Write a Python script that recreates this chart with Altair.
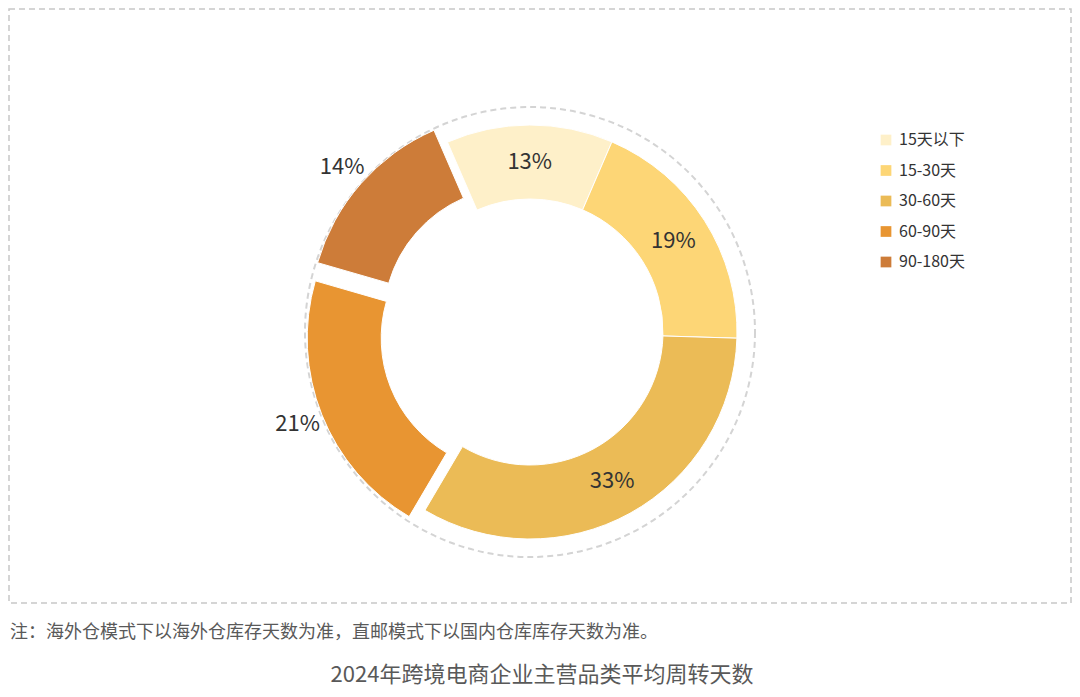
import math
import altair as alt
import pandas as pd

categories = ["15天以下", "15-30天", "30-60天", "60-90天", "90-180天"]
values = [13, 19, 33, 21, 14]
colors = ["#FEF0C9", "#FDD676", "#EBBB56", "#E89532", "#CD7C39"]
note = "注：海外仓模式下以海外仓库存天数为准，直邮模式下以国内仓库库存天数为准。"
title = "2024年跨境电商企业主营品类平均周转天数"

# style
CX, CY = 522, 324
R_OUT, R_IN = 207, 133
explode = {"60-90天": 17, "90-180天": 18}
label_r = {"60-90天": 250, "90-180天": 250}
START = -0.41
FONT = "Noto Sans CJK SC"

df = pd.DataFrame({"cat": categories, "value": values, "order": list(range(len(categories)))})

base = alt.Chart(df).transform_window(
    cum_end="sum(value)", sort=[alt.SortField("order")], frame=[None, 0]
).transform_calculate(
    cum_start="datum.cum_end - datum.value",
    mid="datum.cum_end - datum.value / 2",
    label="datum.value + '%'",
)

theta_scale = alt.Scale(domain=[0, 100], range=[START, START + 2 * math.pi])
color_scale = alt.Scale(domain=categories, range=colors)

layers = []
total = sum(values)
cum = 0
for i, c in enumerate(categories):
    midfrac = (cum + values[i] / 2) / total
    cum += values[i]
    ang = START + midfrac * 2 * math.pi
    d = explode.get(c, 0)
    dx, dy = d * math.sin(ang), -d * math.cos(ang)
    arc = base.transform_filter(alt.datum.cat == c).mark_arc(
        radius=R_OUT, radius2=R_IN, stroke="white", strokeWidth=1,
        xOffset=dx, yOffset=dy,
    ).encode(
        theta=alt.Theta("cum_start:Q", scale=theta_scale),
        theta2="cum_end:Q",
        color=alt.Color("cat:N", scale=color_scale, sort=categories,
                        legend=alt.Legend(title=None, orient="none", legendX=870, legendY=124,
                                          symbolType="square", symbolSize=115,
                                          labelFontSize=16, labelFont=FONT, labelColor="#333333",
                                          rowPadding=14.5, labelOffset=5, symbolStrokeWidth=0) if i == 0 else None),
        x=alt.value(CX), y=alt.value(CY),
    )
    layers.append(arc)
    txt = base.transform_filter(alt.datum.cat == c).mark_text(
        radius=label_r.get(c, 170), fontSize=22, font=FONT, color="#333333",
        align="center", baseline="middle",
    ).encode(
        theta=alt.Theta("mid:Q", scale=theta_scale),
        text="label:N",
        x=alt.value(CX), y=alt.value(CY),
    )
    layers.append(txt)

ring = alt.Chart(df).transform_filter(alt.datum.order == 0).mark_point(
    shape="circle", filled=False, size=450 * 450, stroke="#d4d4d4",
    strokeWidth=2, strokeDash=[6, 4], opacity=1,
).encode(x=alt.value(CX), y=alt.value(CY))

frame = alt.Chart(df).transform_filter(alt.datum.order == 0).mark_rect(
    fill=None, fillOpacity=0, stroke="#c8c8c8", strokeWidth=1.5, strokeDash=[6, 4],
).encode(x=alt.value(1), x2=alt.value(1063), y=alt.value(1), y2=alt.value(595))

note_t = alt.Chart(pd.DataFrame({"t": [note]})).mark_text(
    fontSize=18, font=FONT, color="#595959", align="left", baseline="middle",
).encode(x=alt.value(2), y=alt.value(625), text="t:N")

title_t = alt.Chart(pd.DataFrame({"t": [title]})).mark_text(
    fontSize=22, font=FONT, color="#595959", align="center", baseline="middle",
).encode(x=alt.value(534), y=alt.value(667), text="t:N")

chart = alt.layer(frame, ring, *layers, note_t, title_t).properties(
    width=1064, height=681, padding=0,
    autosize=alt.AutoSizeParams(type="none"),
).configure_view(stroke=None).resolve_scale(theta="shared", color="shared")

chart.save("out.html", embed_options={"renderer": "svg", "actions": False})
